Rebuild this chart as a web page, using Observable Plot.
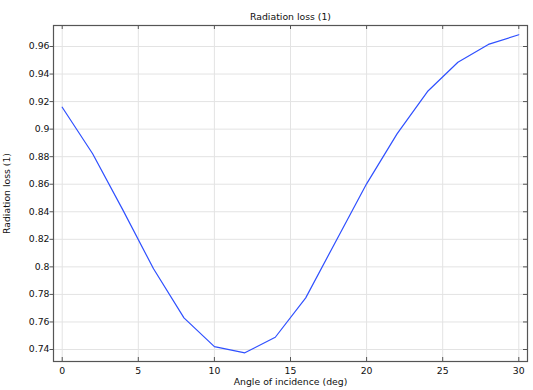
<!DOCTYPE html>
<html>
<head>
<meta charset="utf-8">
<script src="https://cdn.jsdelivr.net/npm/d3@7"></script>
<script src="https://cdn.jsdelivr.net/npm/@observablehq/plot@0.6"></script>
<style>
  html, body { margin: 0; padding: 0; background: #fff; }
  svg { display: block; }
</style>
</head>
<body>
<div id="chart"></div>
<script>
const title = "Radiation loss (1)";
const xLabel = "Angle of incidence (deg)";
const yLabel = "Radiation loss (1)";
const angles = [0, 2, 4, 6, 8, 10, 12, 14, 16, 18, 20, 22, 24, 26, 28, 30];
const loss = [0.9159, 0.8821, 0.841, 0.7986, 0.7630, 0.7421, 0.7376, 0.7489, 0.7775, 0.819, 0.8603, 0.8966, 0.9273, 0.9486, 0.9615, 0.9685];
const xTicks = [0, 5, 10, 15, 20, 25, 30];
const yTicks = [0.74, 0.76, 0.78, 0.8, 0.82, 0.84, 0.86, 0.88, 0.9, 0.92, 0.94, 0.96];

const data = angles.map((a, i) => ({angle: a, loss: loss[i]}));

const W = 533, H = 390;
const mL = 53, mR = 6, mT = 25, mB = 29;
const innerW = W - mL - mR, innerH = H - mT - mB;
const tick = 4;
const gridColor = "#e3e3e3";
const frameColor = "#555";

const chart = Plot.plot({
  width: W,
  height: H,
  marginLeft: mL,
  marginRight: mR,
  marginTop: mT,
  marginBottom: mB,
  style: {fontFamily: "'DejaVu Sans', sans-serif", fontSize: "9.3px", color: "#111", background: "#fff"},
  x: {domain: [-0.572, 30.572]},
  y: {domain: [0.73129, 0.97525]},
  marks: [
    Plot.gridX(xTicks, {stroke: gridColor, strokeOpacity: 1}),
    Plot.gridY(yTicks, {stroke: gridColor, strokeOpacity: 1}),
    Plot.line(data, {x: "angle", y: "loss", stroke: "#2f50ff", strokeWidth: 1.2}),
    // inward ticks bottom / top / right
    Plot.tickX(xTicks, {x: d => d, insetTop: innerH - tick, stroke: frameColor}),
    Plot.tickX(xTicks, {x: d => d, insetBottom: innerH - tick, stroke: frameColor}),
    Plot.tickY(yTicks, {y: d => d, insetLeft: innerW - tick, stroke: frameColor}),
    Plot.axisX(xTicks, {
      anchor: "bottom", tickSize: 0, tickPadding: 6,
      tickFormat: d => String(d),
      label: xLabel, labelAnchor: "center", labelArrow: "none", labelOffset: 23
    }),
    Plot.axisY(yTicks, {
      anchor: "left", tickSize: 3.5, tickPadding: 0.5, stroke: frameColor,
      tickFormat: d => String(+d.toFixed(2)),
      label: yLabel, labelAnchor: "center", labelArrow: "none", labelOffset: 50
    }),
    Plot.frame({stroke: frameColor, strokeWidth: 1.2}),
    Plot.text([title], {frameAnchor: "top", lineAnchor: "bottom", dy: -6, fill: "#111"})
  ]
});

document.getElementById("chart").appendChild(chart);
</script>
</body>
</html>
